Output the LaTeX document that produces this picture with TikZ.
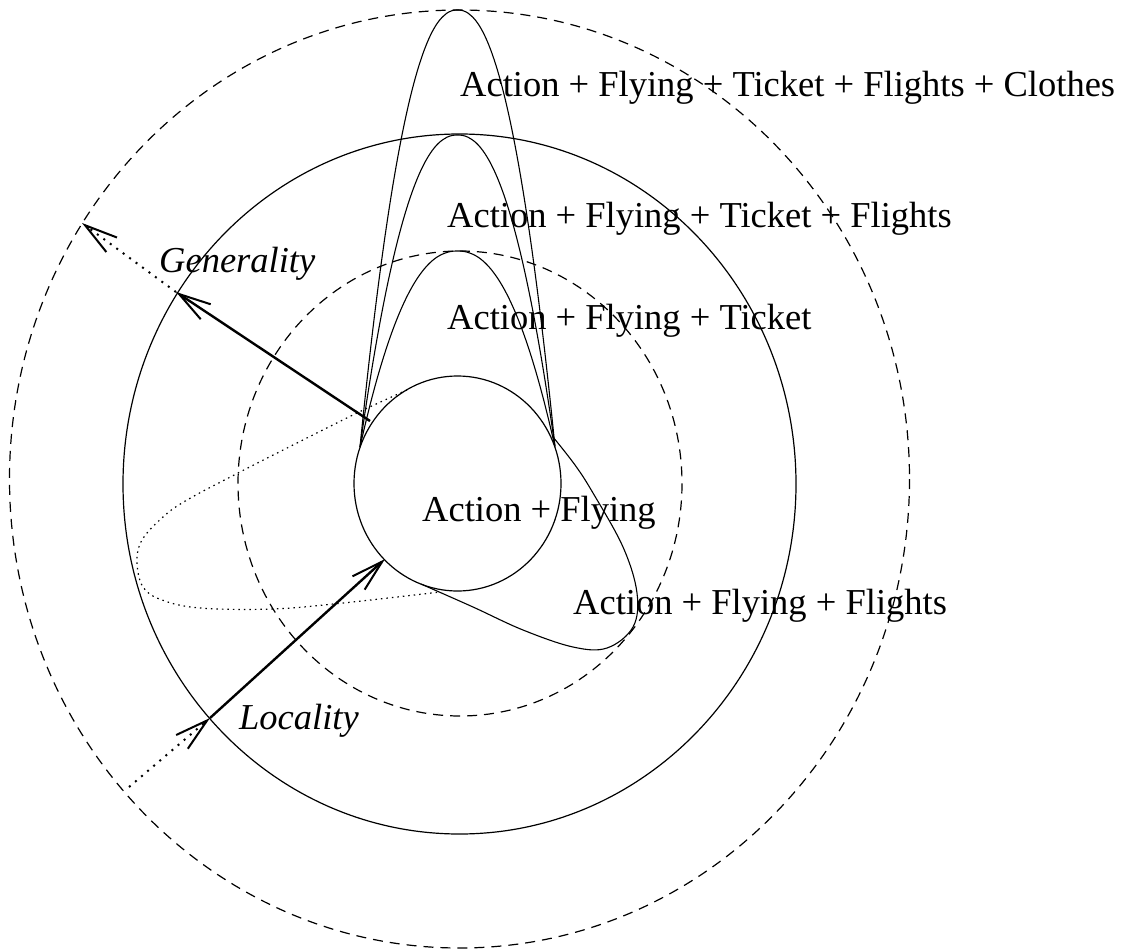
\documentclass[tikz,border=0pt]{standalone}
\usepackage{fontspec}
\setmainfont{Liberation Serif}
\usetikzlibrary{arrows.meta}
\begin{document}
\begin{tikzpicture}[x=1pt,y=-1pt,
  ring/.style={line width=1.2pt},
  dashring/.style={line width=1.2pt, dash pattern=on 10pt off 7pt},
  loop/.style={line width=1.1pt, line join=round},
  dotloop/.style={line width=1.2pt, dash pattern=on 1.5pt off 4pt},
  axis/.style={line width=2.4pt, -{Straight Barb[length=32pt,width=18pt,line width=2pt]}},
  dotaxis/.style={line width=2pt, dash pattern=on 2pt off 6pt, -{Straight Barb[length=33pt,width=18pt,line width=2pt]}},
  lbl/.style={anchor=base west, inner sep=0pt, font=\fontsize{36.5}{44}\selectfont},
  ilbl/.style={lbl, font=\fontsize{36.5}{44}\selectfont\itshape}]
\useasboundingbox (0,0) rectangle (1124,952);
% rings
\draw[dashring] (459.5,479) ellipse [x radius=450, y radius=469];
\draw[ring] (459.5,484) ellipse [x radius=336.5, y radius=350];
\draw[dashring] (460,483.5) ellipse [x radius=222, y radius=232.5];
\draw[ring] (457.5,483.5) ellipse [x radius=103.5, y radius=107.5];
% loops (Ticket, Flights, Clothes): apex at top, ends on the small circle
\draw[loop] plot[domain=-1:1, samples=120, variable=\u] ({457.5+97.5*\u}, {251+196*pow(abs(\u),2.222)});
\draw[loop] plot[domain=-1:1, samples=120, variable=\u] ({457.5+97.5*\u}, {135+312*pow(abs(\u),2.222)});
\draw[loop] plot[domain=-1:1, samples=120, variable=\u] ({457.5+97.5*\u}, {10+437*pow(abs(\u),2.222)});
% Flights loop
\draw[loop] plot[smooth, tension=0.6] coordinates {(553,437) (575,465) (593,493) (623,547) (637,593) (633,627) (607,648) (573,647) (523,630) (473,607) (421,584)};
% dotted loop
\draw[dotloop] plot[smooth, tension=0.6] coordinates {(407,390) (357,413) (297,443) (240,472) (187,500) (163,517) (142,540) (137,562) (143,587) (162,600) (200,608) (273,609) (343,603) (440,592)};
% axis end points
\coordinate (g0) at (370,421);
\coordinate (g1) at (176,292);
\coordinate (g2) at (82,223);
\coordinate (l0) at (129,787);
\coordinate (l1) at (210,718);
\coordinate (l2) at (385,559);
\draw[axis] (g0) -- (g1);
\draw[dotaxis] (g1) -- (g2);
\draw[dotaxis] (l0) -- (l1);
\draw[axis] (l1) -- (l2);
% labels
\node[lbl] (t5) at (460,97) {Action + Flying + Ticket + Flights + Clothes};
\node[lbl] (t4) at (447,227) {Action + Flying + Ticket + Flights};
\node[lbl] (t3) at (447,329) {Action + Flying + Ticket};
\node[lbl] (t2) at (422,521) {Action + Flying};
\node[lbl] (t6) at (573,614) {Action + Flying + Flights};
\node[ilbl] (gen) at (159,272) {Generality};
\node[ilbl] (loc) at (239,729) {Locality};
\end{tikzpicture}
\end{document}
